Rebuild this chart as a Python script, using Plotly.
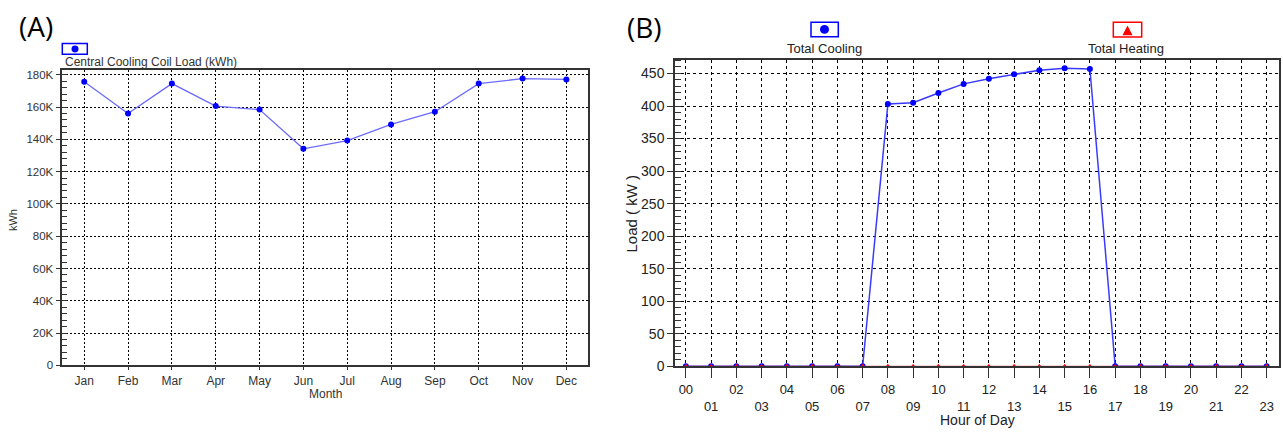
import plotly.graph_objects as go

# ---------------- data ----------------
months = ["Jan", "Feb", "Mar", "Apr", "May", "Jun", "Jul", "Aug", "Sep", "Oct", "Nov", "Dec"]
coil_load_kwh = [175700, 156000, 174500, 160600, 158400, 134100, 139200, 149200, 157100, 174500, 177600, 177100]
a_ytick_vals = [0, 20000, 40000, 60000, 80000, 100000, 120000, 140000, 160000, 180000]
a_ytick_text = ["0", "20K", "40K", "60K", "80K", "100K", "120K", "140K", "160K", "180K"]

hours = ["00", "01", "02", "03", "04", "05", "06", "07", "08", "09", "10", "11",
         "12", "13", "14", "15", "16", "17", "18", "19", "20", "21", "22", "23"]
total_cooling_kw = [0, 0, 0, 0, 0, 0, 0, 0, 403, 405, 420, 434, 442, 449, 455, 458, 457, 0, 0, 0, 0, 0, 0, 0]
total_heating_kw = [0, 0, 0, 0, 0, 0, 0, 0, 0, 0, 0, 0, 0, 0, 0, 0, 0, 0, 0, 0, 0, 0, 0, 0]

W, H = 1283, 439
FONT = "Liberation Sans, Arial, sans-serif"


def px(x):
    return x / W


def py(y):
    return 1 - y / H


fig = go.Figure()

# Panel A
fig.add_trace(go.Scatter(
    x=months, y=coil_load_kwh, mode="lines+markers",
    line=dict(color="#6b6bff", width=1.3),
    marker=dict(color="#0000ff", size=6, symbol="circle"),
    xaxis="x", yaxis="y", showlegend=False,
))

# Panel B
fig.add_trace(go.Scatter(
    x=hours, y=total_cooling_kw, mode="lines+markers",
    line=dict(color="#3a3aff", width=1.5),
    marker=dict(color="#0000ff", size=6, symbol="circle"),
    xaxis="x2", yaxis="y2", showlegend=False,
))
fig.add_trace(go.Scatter(
    x=hours, y=total_heating_kw, mode="lines+markers",
    line=dict(color="#ff0000", width=1),
    marker=dict(color="#ff0000", size=5, symbol="triangle-up"),
    xaxis="x2", yaxis="y2", showlegend=False,
))

axis_common = dict(
    showline=True, linecolor="#333333", linewidth=1.5, mirror=True,
    ticks="outside", tickcolor="#333333", zeroline=False,
)

b_ticktext = [h if i % 2 == 0 else "<br>" + h for i, h in enumerate(hours)]

fig.update_layout(
    width=W, height=H, autosize=False,
    margin=dict(l=0, r=0, t=0, b=0),
    paper_bgcolor="white", plot_bgcolor="white",
    font=dict(family=FONT, color="#222222"),
    xaxis=dict(
        domain=[px(62.3), px(588.3)], anchor="y", type="category",
        range=[-0.5, 11.5], tickmode="array", tickvals=months, ticktext=months,
        ticklen=3, tickfont=dict(size=12, color="#333333"),
        showgrid=True, gridcolor="#000000", gridwidth=1, griddash="2px,2px",
        **axis_common,
    ),
    yaxis=dict(
        domain=[py(372), py(70)], anchor="x",
        range=[0, 183200], tickmode="array", tickvals=a_ytick_vals, ticktext=a_ytick_text,
        ticklen=5, tickfont=dict(size=11.5, color="#333333"),
        showgrid=True, gridcolor="#000000", gridwidth=1, griddash="2px,2px",
        minor=dict(tick0=0, dtick=4000, ticks="inside", ticklen=5, tickcolor="#333333", showgrid=False),
        **axis_common,
    ),
    xaxis2=dict(
        domain=[px(675), px(1279.3)], anchor="y2", type="category",
        range=[-0.43, 23.5], tickmode="array", tickvals=hours, ticktext=b_ticktext,
        ticklen=10, tickfont=dict(size=13, color="#222222"),
        showgrid=True, gridcolor="#000000", gridwidth=1.2, griddash="3px,3px",
        **axis_common,
    ),
    yaxis2=dict(
        domain=[py(373), py(60.7)], anchor="x2",
        range=[0, 470], tickmode="linear", tick0=0, dtick=50,
        ticklen=6, tickfont=dict(size=14, color="#222222"),
        showgrid=True, gridcolor="#000000", gridwidth=1.2, griddash="3px,3px",
        minor=dict(tick0=0, dtick=10, ticks="inside", ticklen=6, tickcolor="#333333", showgrid=False),
        **axis_common,
    ),
)

shapes = [
    # Panel A legend box + dot
    dict(type="rect", xref="paper", yref="paper", x0=px(62.3), x1=px(87.3), y0=py(54.3), y1=py(43.3),
         line=dict(color="#0000ff", width=1.5), fillcolor="white"),
    dict(type="circle", xref="paper", yref="paper", x0=px(71.5), x1=px(78.5), y0=py(52.5), y1=py(45.5),
         line=dict(color="#0000ff", width=0), fillcolor="#0000ff"),
    # Panel B cooling legend
    dict(type="rect", xref="paper", yref="paper", x0=px(811), x1=px(838.3), y0=py(36.5), y1=py(21.7),
         line=dict(color="#0000ff", width=1.5), fillcolor="white"),
    dict(type="circle", xref="paper", yref="paper", x0=px(820), x1=px(829), y0=py(33.5), y1=py(24.5),
         line=dict(color="#0000ff", width=0), fillcolor="#0000ff"),
    # Panel B heating legend
    dict(type="rect", xref="paper", yref="paper", x0=px(1113.3), x1=px(1141.7), y0=py(36.7), y1=py(21.7),
         line=dict(color="#ff0000", width=1.5), fillcolor="white"),
    dict(type="path", xref="paper", yref="paper",
         path=f"M {px(1122.5)},{py(35)} L {px(1132.5)},{py(35)} L {px(1127.5)},{py(25)} Z",
         line=dict(color="#ff0000", width=0), fillcolor="#ff0000"),
]
fig.update_layout(shapes=shapes)

annotations = [
    dict(text="(A)", x=px(36), y=py(25.5), font=dict(size=28, family="Open Sans, sans-serif", color="#000000")),
    dict(text="(B)", x=px(644), y=py(26.5), font=dict(size=28, family="Open Sans, sans-serif", color="#000000")),
    dict(text="Central Cooling Coil Load (kWh)", x=px(62.5), y=py(62.5), xanchor="left",
         font=dict(size=12, color="#333333")),
    dict(text="kWh", x=px(13.7), y=py(224), textangle=-90, font=dict(size=11, color="#333333")),
    dict(text="Month", x=px(325), y=py(401), font=dict(size=12, color="#333333")),
    dict(text="Total Cooling", x=px(824.5), y=py(48.3), font=dict(size=13, color="#222222")),
    dict(text="Total Heating", x=px(1125.5), y=py(48), font=dict(size=13, color="#222222")),
    dict(text="Load ( kW )", x=px(632), y=py(217), textangle=-90, font=dict(size=15, color="#222222")),
    dict(text="Hour of Day", x=px(977), y=py(428), font=dict(size=14, color="#222222")),
]
for a in annotations:
    a.setdefault("xref", "paper")
    a.setdefault("yref", "paper")
    a.setdefault("xanchor", "center")
    a.setdefault("yanchor", "middle")
    a["showarrow"] = False
fig.update_layout(annotations=annotations)

fig.write_html(
    "out.html",
    config={"displayModeBar": False},
    post_script="document.body.style.margin='0';document.body.style.overflow='hidden';",
)
